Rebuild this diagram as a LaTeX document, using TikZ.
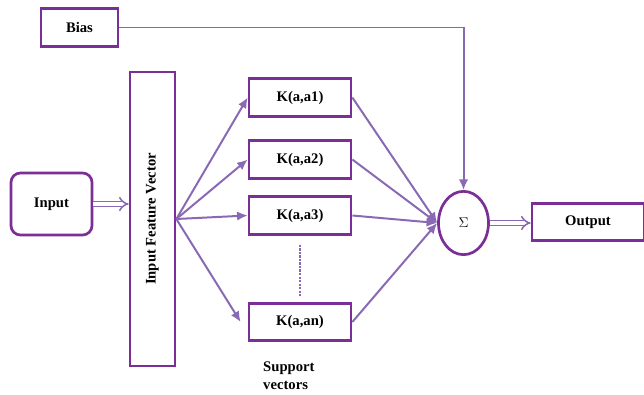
\documentclass[tikz,border=0pt]{standalone}
\usepackage{fontspec}
\setmainfont{Liberation Serif}
\usepackage{tikz}
\usetikzlibrary{arrows.meta,positioning,calc,shapes.geometric}
\definecolor{boxline}{HTML}{7A2E96}
\definecolor{arrline}{HTML}{8A69B4}
\tikzset{
  kbox/.style={draw=boxline,line width=2.3pt,minimum width=3.06cm,minimum height=1.12cm,font=\fontsize{12.5}{15}\selectfont\bfseries},
  flow/.style={draw=arrline,line width=1.7pt,-{Latex[length=9pt,width=8pt]}},
  dflow/.style={draw=arrline,double=white,double distance=2.8pt,line width=1.3pt,-{Implies[length=7pt]}}
}
\begin{document}
\begin{tikzpicture}[x=0.03cm,y=-0.03cm]
\useasboundingbox (0,0) rectangle (644,395);
% boxes
\node[kbox,minimum width=2.31cm] (bias) at (79.5,27.5){Bias};
\node[kbox,rounded corners=8pt,minimum width=2.43cm,minimum height=1.86cm] (inp) at (51.5,204){Input};
\node[kbox,minimum width=1.35cm,minimum height=8.82cm] (ifv) at (152.5,219){};
\node[font=\fontsize{12.5}{15}\selectfont\bfseries,rotate=90] at (ifv.center){Input Feature Vector};
\node[kbox] (k1) at (300,97.5){K(a,a1)};
\node[kbox] (k2) at (300,159.5){K(a,a2)};
\node[kbox] (k3) at (300,215.5){K(a,a3)};
\node[kbox] (kn) at (300,322){K(a,an)};
\node[draw=boxline,line width=2.3pt,ellipse,minimum width=1.5cm,minimum height=1.9cm,inner sep=0pt,font=\fontsize{12.5}{15}\selectfont] (sig) at (463.5,223){$\Sigma$};
\node[kbox,minimum width=3.36cm] (out) at (588,222){Output};
\node[font=\fontsize{12.5}{15}\selectfont\bfseries,align=left,anchor=north west,inner sep=0pt] (sv) at (263,362){Support\\vectors};
% connectors
\draw[flow] (bias.east) -| (sig.north);
\draw[dflow] (inp.east) -- (ifv.west|-inp.east);
\foreach \k in {k1,k2,k3}{
  \draw[flow] (ifv.east) -- (\k.west);
}
\draw[flow] (ifv.east) -- ([xshift=-6pt]kn.west);
\foreach \k in {k1,k2,k3,kn}{
  \draw[flow] (\k.east) -- (sig.west);
}
\draw[dash pattern=on 2pt off 1pt,draw=arrline,line width=1.3pt] ([yshift=-8pt]k3.south) -- ([yshift=5pt]kn.north);
\draw[dflow] (sig.east) -- (out.west|-sig.east);
\end{tikzpicture}
\end{document}
